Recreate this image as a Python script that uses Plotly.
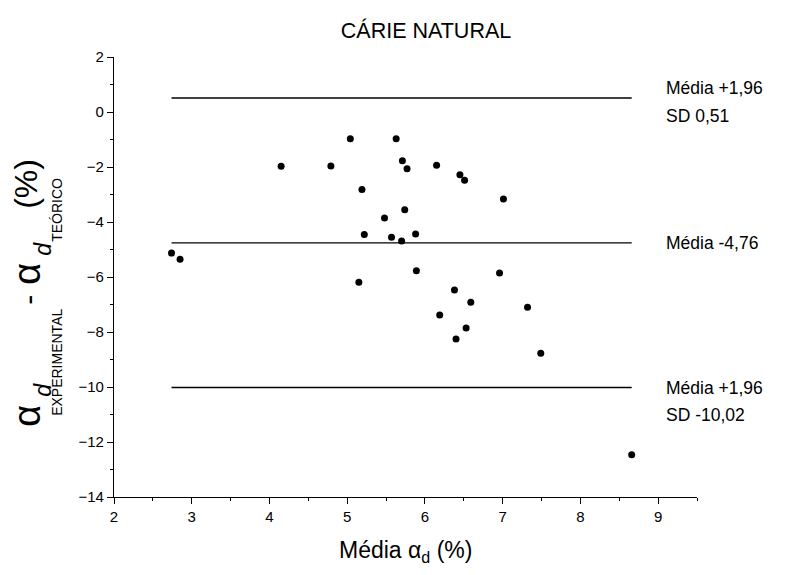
import plotly.graph_objects as go

# Data
media_x = [2.74, 2.85, 4.15, 4.79, 5.04, 5.15, 5.19, 5.22, 5.48, 5.57,
           5.63, 5.70, 5.71, 5.74, 5.77, 5.88, 5.89, 6.15, 6.19, 6.38,
           6.40, 6.45, 6.51, 6.53, 6.59, 6.96, 7.01, 7.32, 7.49, 8.66]
diff_y = [-5.13, -5.35, -1.97, -1.96, -0.97, -6.19, -2.82, -4.45, -3.85, -4.55,
          -0.97, -4.69, -1.77, -3.55, -2.06, -4.44, -5.77, -1.94, -7.38, -6.47,
          -8.25, -2.28, -2.48, -7.85, -6.92, -5.85, -3.16, -7.10, -8.77, -12.46]

stat_values = [0.51, -4.76, -10.02]
stat_labels = [["Média +1,96", "SD 0,51"], ["Média -4,76"], ["Média +1,96", "SD -10,02"]]
# pixel offsets of each label line from its reference line
stat_label_shift = [[10, -18], [0], [0, -27]]

x_tick_vals = [2, 3, 4, 5, 6, 7, 8, 9]
y_tick_vals = [2, 0, -2, -4, -6, -8, -10, -12, -14]

FONT = "Arial, 'Liberation Sans', sans-serif"

W, H = 790, 575
ML, MR, MT, MB = 113.5, 93, 56.7, 78.3
PW, PH = W - ML - MR, H - MT - MB


def px_to_paper(px, py):
    return (px - ML) / PW, (H - MB - py) / PH


fig = go.Figure()

xmin, xmax = min(media_x), max(media_x)
for v in stat_values:
    fig.add_trace(go.Scatter(x=[xmin, xmax], y=[v, v], mode="lines",
                             line=dict(color="black", width=1.4),
                             showlegend=False, hoverinfo="skip"))

fig.add_trace(go.Scatter(x=media_x, y=diff_y, mode="markers",
                         marker=dict(color="black", size=7),
                         showlegend=False))

label_x, _ = px_to_paper(664, 0)
for v, labs, shifts in zip(stat_values, stat_labels, stat_label_shift):
    for lab, sh in zip(labs, shifts):
        fig.add_annotation(x=label_x, xref="paper", y=v, yref="y", text=lab,
                           xanchor="left", yanchor="middle", align="left",
                           yshift=sh, showarrow=False,
                           font=dict(family=FONT, size=17.5, color="black"))

# x-axis title
tx, ty = px_to_paper(405, 551)
fig.add_annotation(x=tx, xref="paper", y=ty, yref="paper",
                   text="Média α<sub>d</sub> (%)", showarrow=False,
                   xanchor="center", yanchor="middle",
                   font=dict(family=FONT, size=23, color="black"))

# y-axis title pieces (rotated): text, size, italic, center pixel x, center pixel y
ytitle_parts = [
    ("α", 38, False, 27, 416),
    ("d", 23, True, 43, 390),
    ("EXPERIMENTAL", 14, False, 57, 362),
    ("-", 30, False, 28, 300),
    ("α", 38, False, 27, 274),
    ("d", 23, True, 43, 249),
    ("TEÓRICO", 14, False, 57, 210),
    ("(%)", 32, False, 26, 184),
]
for txt, sz, it, cx, cy in ytitle_parts:
    ax_, ay_ = px_to_paper(cx, cy)
    fig.add_annotation(x=ax_, xref="paper", y=ay_, yref="paper",
                       text=f"<i>{txt}</i>" if it else txt, textangle=-90,
                       showarrow=False, xanchor="center", yanchor="middle",
                       font=dict(family=FONT, size=sz, color="black"))

fig.update_layout(
    width=W, height=H,
    margin=dict(l=ML, r=MR, t=MT, b=MB),
    paper_bgcolor="white", plot_bgcolor="white",
    title=dict(text="CÁRIE NATURAL", x=426 / W, xanchor="center",
               y=1 - 30 / H, yanchor="middle",
               font=dict(family=FONT, size=21.5, color="black")),
    font=dict(family=FONT, size=15, color="black"),
    xaxis=dict(range=[2, 9.5], tickvals=x_tick_vals, showgrid=False,
               zeroline=False, showline=True, linecolor="black", linewidth=1.3,
               ticks="outside", ticklen=6, tickwidth=1.3, tickcolor="black",
               minor=dict(dtick=0.5, ticks="outside", ticklen=3, tickwidth=1.3, tickcolor="black"),
               tickfont=dict(family=FONT, size=15, color="black")),
    yaxis=dict(range=[-14, 2], tickvals=y_tick_vals, showgrid=False,
               zeroline=False, showline=True, linecolor="black", linewidth=1.3,
               ticks="outside", ticklen=6, tickwidth=1.3, tickcolor="black",
               minor=dict(dtick=1, ticks="outside", ticklen=3, tickwidth=1.3, tickcolor="black"),
               tickfont=dict(family=FONT, size=15, color="black")),
)

fig.write_html("out.html")
